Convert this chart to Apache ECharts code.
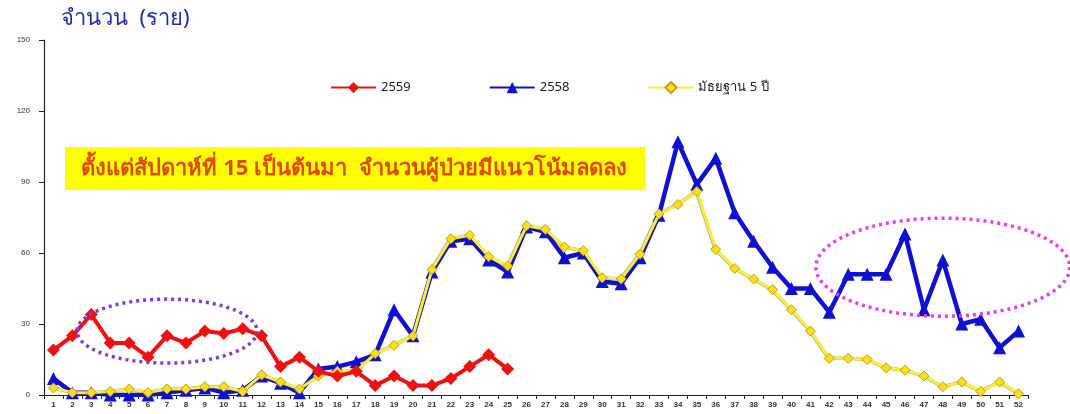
<!DOCTYPE html>
<html><head><meta charset="utf-8">
<script src="https://cdn.jsdelivr.net/npm/echarts@6/dist/echarts.min.js"></script>
<style>html,body{margin:0;padding:0;background:#fff;}#c{width:1070px;height:414px;}</style>
</head><body><div id="c"></div>
<script>
const weeks = Array.from({length:52},(_,i)=>String(i+1));
const y2559 = [19,25,34,22,22,16,25,22,27,26,28,25,12,16,10,8,10,4,8,4,4,7,12,17,11];
const y2558 = [7,1,1,0,0,0,1,2,3,1,2,8,5,1,11,12,14,17,36,25,52,65,66,57,52,71,69,58,60,48,47,58,76,107,89,100,77,65,54,45,45,35,51,51,51,68,36,57,30,32,20,27];
const median5 = [3,1,1,1.5,2.5,1,2.5,2.5,3.5,3.5,1.5,8.5,5.5,2.5,8,10,10,17.5,21,25,53,66,67.5,58.5,54.5,71.5,70,62.5,61,49.5,49,59.5,76.5,80.5,86,61.5,53.5,49,44.5,36,27,15.5,15.5,15,11.5,10.5,8,3.5,5.5,1.5,5.5,0.5];
const yTicks = [0,30,60,90,120,150];
const names = ['2559','2558','มัธยฐาน 5 ปี'];
const thaiFont = 'Tahoma, "Noto Sans", "DejaVu Sans", sans-serif';

const chart = echarts.init(document.getElementById('c'));
const option = {
  animation:false,
  backgroundColor:'#fff',
  grid:{left:44,right:42,top:40,bottom:19},
  legend:{
    data:names, left:325, top:76, itemWidth:45, itemHeight:14, itemGap:78,
    textStyle:{fontSize:13,color:'#222',fontFamily:thaiFont}
  },
  title:{text:'จำนวน  (ราย)', left:56, top:3,
    textStyle:{fontSize:22,fontWeight:'normal',color:'#1d2fb0',fontFamily:thaiFont}},
  xAxis:{
    type:'category', data:weeks, boundaryGap:true,
    axisLine:{lineStyle:{color:'#222',width:1.2}},
    axisTick:{show:true,length:4,lineStyle:{color:'#222'}},
    axisLabel:{fontSize:8,fontWeight:'bold',color:'#333',margin:6,interval:0}
  },
  yAxis:{
    type:'value', min:yTicks[0], max:yTicks[yTicks.length-1], interval:30,
    splitLine:{show:false},
    axisLine:{show:true,lineStyle:{color:'#222',width:1.2}},
    axisTick:{show:true,length:5,lineStyle:{color:'#222'}},
    axisLabel:{fontSize:8,color:'#333',margin:14}
  },
  series:[
    {name:names[0],type:'line',data:y2559,z:5,symbol:'diamond',symbolSize:13,
     itemStyle:{color:'#ee1111'},lineStyle:{color:'#ee1111',width:4}},
    {name:names[1],type:'line',data:y2558,z:3,symbol:'triangle',symbolSize:13,
     itemStyle:{color:'#1010d0'},lineStyle:{color:'#1010d0',width:4.5}},
    {name:names[2],type:'line',data:median5,z:4,symbol:'diamond',symbolSize:10,
     itemStyle:{color:'#f5e020',borderColor:'#c8a000',borderWidth:1},
     lineStyle:{color:'#f8f030',width:3,shadowColor:'rgba(0,0,0,0.5)',shadowBlur:1,shadowOffsetX:-0.5}}
  ]
};
chart.setOption(option);

function ellipsePts(cxD, cyD, rxPx, ryPx){
  const c = chart.convertToPixel({gridIndex:0},[cxD,cyD]);
  const pts=[];
  for(let i=0;i<=120;i++){const a=i/120*Math.PI*2;pts.push([c[0]+rxPx*Math.cos(a),c[1]+ryPx*Math.sin(a)]);}
  return pts;
}
chart.setOption({graphic:[
  {type:'rect',shape:{x:65,y:147,width:580,height:43},style:{fill:'#ffff00'},z:1},
  {type:'text',x:354,y:169,z:2,style:{text:'ตั้งแต่สัปดาห์ที่ 15 เป็นต้นมา  จำนวนผู้ป่วยมีแนวโน้มลดลง',
    fill:'#e04a10',font:'bold 22px '+thaiFont,textAlign:'center',textVerticalAlign:'middle',
    shadowColor:'rgba(110,30,0,0.7)',shadowBlur:2,shadowOffsetX:1,shadowOffsetY:1}},
  {type:'polyline',shape:{points:ellipsePts('7',27,90,32)},z:10,
    style:{stroke:'#7a3ce0',lineWidth:3.5,lineDash:[3,4],fill:null}},
  {type:'polyline',shape:{points:ellipsePts('48',54,127,49)},z:10,
    style:{stroke:'#e43ee4',lineWidth:3.5,lineDash:[3,4],fill:null}}
]});
</script></body></html>
